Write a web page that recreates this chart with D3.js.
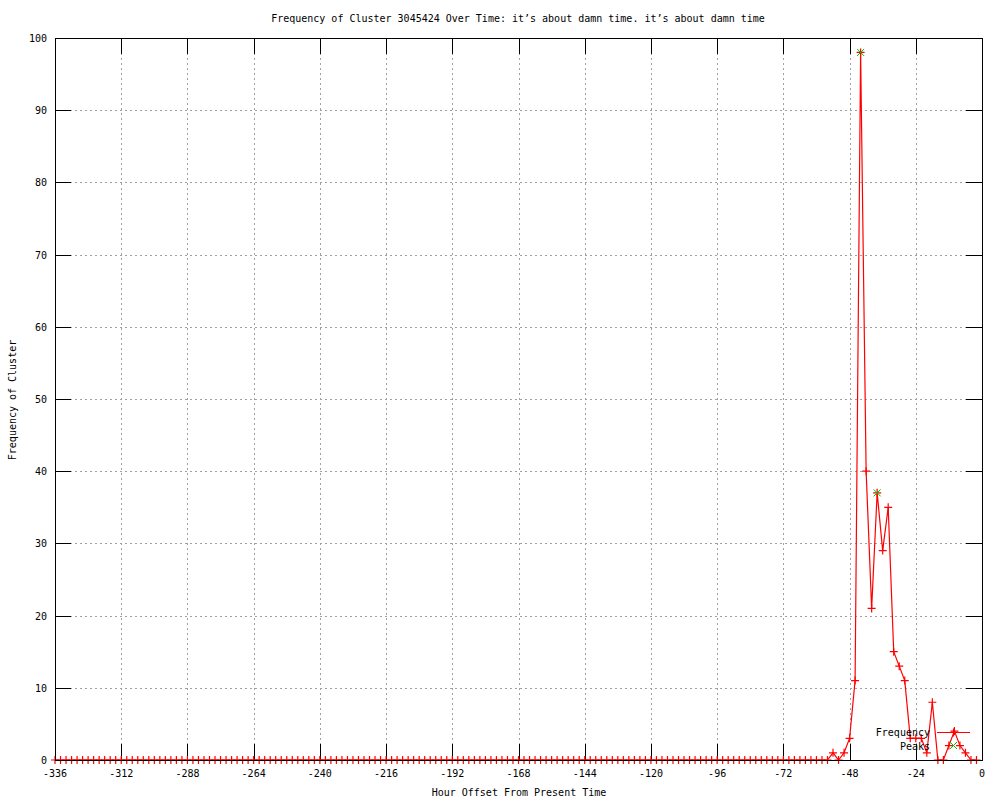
<!DOCTYPE html>
<html lang="en">
<head>
<meta charset="UTF-8">
<title>Frequency of Cluster</title>
<script src="https://d3js.org/d3.v7.min.js"></script>
<style>
  body { margin: 0; background: #fff; }
  text { font-family: "DejaVu Sans Mono", "Liberation Mono", monospace; font-size: 10px; fill: #000; }
</style>
</head>
<body>
<script>
  // hours run every 2 h from -336 to -2; everything before -56 is zero
  const hours = d3.range(-336, 0, 2)
  const lateValues = [0, 1, 0, 1, 3, 11, 98, 40, 21, 37, 29, 35, 15, 13, 11, 3, 3, 3, 1, 8, 0, 0, 2, 4, 2, 1, 0, 0]
  const values = hours.map((h, i) => i < hours.length - lateValues.length ? 0 : lateValues[i - (hours.length - lateValues.length)])
  const peakHours = [-44, -38]
  const peakValues = [98, 37]
  const xTicks = d3.range(-336, 1, 24)
  const yTicks = d3.range(0, 101, 10)

  const title = "Frequency of Cluster 3045424 Over Time: it\u2019s about damn time. it\u2019s about damn time"

  const W = 1000, H = 800
  const margin = {top: 38, right: 18, bottom: 40, left: 55}
  const tick = 16

  const svg = d3.select("body").append("svg")
      .attr("width", W).attr("height", H)

  const x = d3.scaleLinear().domain([-336, 0]).range([margin.left, W - margin.right])
  const y = d3.scaleLinear().domain([0, 100]).range([H - margin.bottom, margin.top])

  // grid
  const grid = svg.append("g").attr("stroke", "#a0a0a0").attr("stroke-dasharray", "2,3").attr("shape-rendering", "crispEdges")
  grid.selectAll(".gx").data(xTicks.slice(1, -1)).enter().append("line")
    .attr("x1", d => Math.round(x(d)) + 0.5).attr("x2", d => Math.round(x(d)) + 0.5)
    .attr("y1", y(0)).attr("y2", y(100))
  grid.selectAll(".gy").data(yTicks.slice(1, -1)).enter().append("line")
    .attr("y1", d => Math.round(y(d)) + 0.5).attr("y2", d => Math.round(y(d)) + 0.5)
    .attr("x1", x(-336)).attr("x2", x(0))

  // ticks on all four sides
  const ticks = svg.append("g").attr("stroke", "#000").attr("shape-rendering", "crispEdges")
  xTicks.forEach(d => {
    let px = Math.round(x(d)) + 0.5
    ticks.append("line").attr("x1", px).attr("x2", px).attr("y1", y(0)).attr("y2", y(0) - tick)
    ticks.append("line").attr("x1", px).attr("x2", px).attr("y1", y(100)).attr("y2", y(100) + tick)
  })
  yTicks.forEach(d => {
    let py = Math.round(y(d)) + 0.5
    ticks.append("line").attr("y1", py).attr("y2", py).attr("x1", x(-336)).attr("x2", x(-336) + tick)
    ticks.append("line").attr("y1", py).attr("y2", py).attr("x1", x(0)).attr("x2", x(0) - tick)
  })

  // tick labels
  svg.selectAll(".xl").data(xTicks).enter().append("text")
    .attr("x", d => x(d)).attr("y", y(0) + 17).attr("text-anchor", "middle").text(d => d)
  svg.selectAll(".yl").data(yTicks).enter().append("text")
    .attr("x", x(-336) - 8).attr("y", d => y(d) + 4).attr("text-anchor", "end").text(d => d)

  // frequency line and points
  const line = d3.line().x((d, i) => x(hours[i])).y(d => y(d))
  svg.append("path").datum(values)
    .attr("fill", "none").attr("stroke", "#ff0000").attr("stroke-width", 1.2).attr("d", line)

  const plus = (cx, cy, r) => `M${cx - r},${cy}H${cx + r}M${cx},${cy - r}V${cy + r}`
  const cross = (cx, cy, r) => `M${cx - r},${cy - r}L${cx + r},${cy + r}M${cx - r},${cy + r}L${cx + r},${cy - r}`

  svg.append("g").selectAll("path").data(values).enter().append("path")
    .attr("stroke", "#ff0000").attr("stroke-width", 1.2)
    .attr("d", (d, i) => plus(x(hours[i]), y(d), 4))

  svg.append("g").selectAll("path").data(peakValues).enter().append("path")
    .attr("stroke", "#00c000").attr("stroke-width", 1)
    .attr("d", (d, i) => cross(x(peakHours[i]), y(d), 3.5))

  // legend
  const lg = svg.append("g")
  lg.append("text").attr("x", 930).attr("y", 736).attr("text-anchor", "end").text("Frequency")
  lg.append("line").attr("x1", 937).attr("x2", 970).attr("y1", 732.5).attr("y2", 732.5)
    .attr("stroke", "#ff0000").attr("stroke-width", 1.2)
  lg.append("path").attr("stroke", "#ff0000").attr("stroke-width", 1.2).attr("d", plus(953.5, 732.5, 4))
  lg.append("text").attr("x", 930).attr("y", 750).attr("text-anchor", "end").text("Peaks")
  lg.append("path").attr("stroke", "#00c000").attr("stroke-width", 1).attr("d", cross(953.5, 745.5, 3.5))

  // border
  svg.append("rect")
    .attr("x", x(-336) + 0.5).attr("y", y(100) + 0.5)
    .attr("width", x(0) - x(-336)).attr("height", y(0) - y(100))
    .attr("fill", "none").attr("stroke", "#000").attr("shape-rendering", "crispEdges")

  // titles
  svg.append("text").attr("x", 518).attr("y", 22).attr("text-anchor", "middle").text(title)
  svg.append("text").attr("x", 519).attr("y", 796).attr("text-anchor", "middle").text("Hour Offset From Present Time")
  svg.append("text").attr("transform", "translate(16,400) rotate(-90)").attr("text-anchor", "middle").text("Frequency of Cluster")
</script>
</body>
</html>
